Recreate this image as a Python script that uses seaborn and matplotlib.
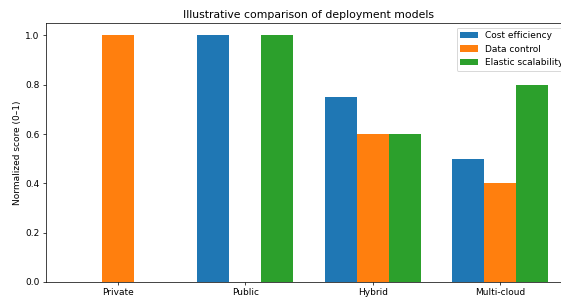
import pandas as pd
import matplotlib.pyplot as plt
import seaborn as sns

# --------------------------------------------------
# Data
# --------------------------------------------------
models = ["Private", "Public", "Hybrid", "Multi-cloud"]
metrics = ["Cost efficiency", "Data control", "Elastic scalability"]
cost_efficiency = [0.0, 1.0, 0.75, 0.5]
data_control = [1.0, 0.0, 0.6, 0.4]
elastic_scalability = [0.0, 1.0, 0.6, 0.8]
colors = ["#1f77b4", "#ff7f0e", "#2ca02c"]

df = pd.DataFrame({
    "model": models * 3,
    "metric": [m for m in metrics for _ in models],
    "score": cost_efficiency + data_control + elastic_scalability,
})

# --------------------------------------------------
# Plot
# --------------------------------------------------
DPI = 65
fig = plt.figure(figsize=(561 / DPI, 298 / DPI), dpi=DPI)
ax = fig.add_axes([0.082, 0.0537, 1.0196 - 0.082, 0.9228 - 0.0537])

sns.barplot(data=df, x="model", y="score", hue="metric", order=models,
            hue_order=metrics, palette=colors, width=0.75, saturation=1,
            linewidth=0, ax=ax)

ax.set_xlim(-0.5625, 3.5625)
ax.set_ylim(0, 1.05)
ax.set_title("Illustrative comparison of deployment models")
ax.set_xlabel("")
ax.set_ylabel("Normalized score (0\u20131)")
ax.legend(loc="upper right")

fig.savefig("out.png", dpi=DPI)
